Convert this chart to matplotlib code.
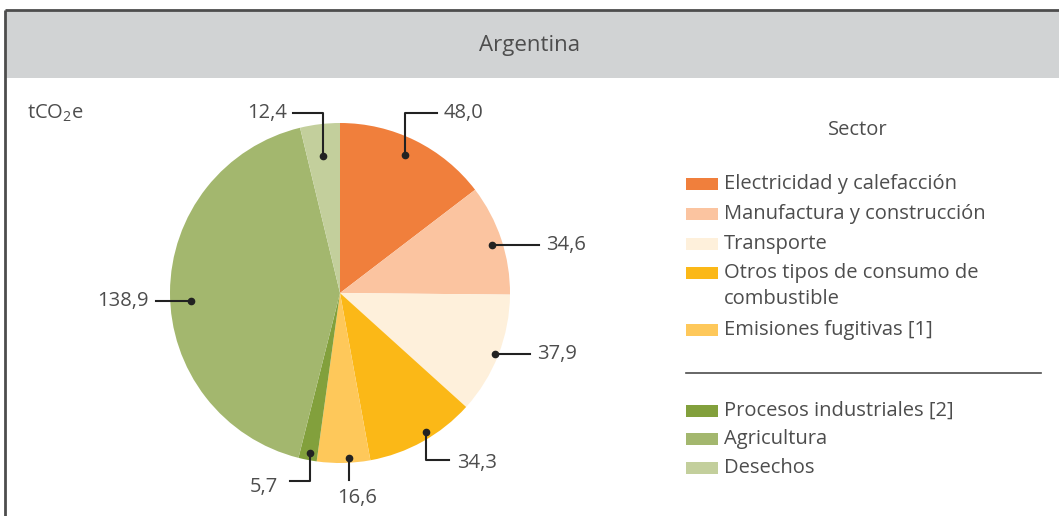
import matplotlib
matplotlib.use("Agg")
import matplotlib.pyplot as plt
from matplotlib import font_manager
import numpy as np

# ---- data ----
title = "Argentina"
unit_label = "tCO$_2$e"
legend_title = "Sector"
sectors = ["Electricidad y calefacción", "Manufactura y construcción", "Transporte",
           "Otros tipos de consumo de\ncombustible", "Emisiones fugitivas [1]",
           "Procesos industriales [2]", "Agricultura", "Desechos"]
values = [48.0, 34.6, 37.9, 34.3, 16.6, 5.7, 138.9, 12.4]
value_labels = ["48,0", "34,6", "37,9", "34,3", "16,6", "5,7", "138,9", "12,4"]
colors = ["#f07f3c", "#fbc4a0", "#fef0db", "#fbb817", "#fec85a",
          "#82a03c", "#a3b76e", "#c3cf9c"]

# ---- fonts ----
avail = {f.name for f in font_manager.fontManager.ttflist}
fam = "Liberation Sans Narrow" if "Liberation Sans Narrow" in avail else "Open Sans"
plt.rcParams['font.family'] = [fam, 'DejaVu Sans']
plt.rcParams['mathtext.fontset'] = 'custom'
plt.rcParams['mathtext.rm'] = fam
plt.rcParams['mathtext.it'] = fam
TXT = "#4d4d4d"
FS = 14.5

W, H = 1059, 516
fig = plt.figure(figsize=(W / 100, H / 100), dpi=100)
ax = fig.add_axes([0, 0, 1, 1])


def fy(y):
    return H - y


# frame and header
ax.add_patch(plt.Rectangle((5, fy(78)), W, 68, facecolor="#d1d3d4", edgecolor="none", zorder=0))
ax.plot([5, W], [fy(10), fy(10)], color="#4d4d4d", lw=2, solid_capstyle='butt', zorder=1)
ax.plot([5, 5], [fy(10), 0], color="#4d4d4d", lw=2, solid_capstyle='butt', zorder=1)
ax.text(530, fy(46), title, ha='center', va='center', fontsize=16, color=TXT)
ax.text(27, fy(113), unit_label, ha='left', va='center', fontsize=FS, color=TXT)

# pie
cx, cy, R = 340, fy(293), 170
wedges, _ = ax.pie(values, colors=colors, startangle=90, counterclock=False,
                   center=(cx, cy), radius=R, frame=True,
                   wedgeprops=dict(linewidth=0))
ax.set_xlim(0, W)
ax.set_ylim(0, H)
ax.set_aspect('equal')
ax.axis('off')

# label layout: dot radius fraction, angle tweak (deg), leader path offsets (px, y downwards), text offset
layout = [
    (0.90, 1.0, [(0, -42), (32, -42)], (6, 0, 'left')),
    (0.94, -1.0, [(47, 0)], (7, 0, 'left')),
    (0.98, 0.0, [(35, 0)], (7, 0, 'left')),
    (0.96, 2.8, [(0, 28), (23, 28)], (8, 3, 'left')),
    (0.97, 1.8, [(0, 22)], (8, 18, 'center')),
    (0.96, 0.3, [(0, 28), (-20, 28)], (-12, 6, 'right')),
    (0.88, 3.2, [(-35, 0)], (-7, 0, 'right')),
    (0.81, 0.2, [(0, -43), (-30, -43)], (-6, 0, 'right')),
]
for w, lab, (rf, dang, path, (tdx, tdy, ha)) in zip(wedges, value_labels, layout):
    ang = np.deg2rad((w.theta1 + w.theta2) / 2 + dang)
    x0 = cx + rf * R * np.cos(ang)
    y0 = cy + rf * R * np.sin(ang)
    xs = [x0] + [x0 + dx for dx, dy in path]
    ys = [y0] + [y0 - dy for dx, dy in path]
    ax.plot(xs, ys, color="#222222", lw=1.5, zorder=5)
    ax.plot([x0], [y0], 'o', color="#222222", ms=4.5, zorder=6)
    ax.text(xs[-1] + tdx, ys[-1] - tdy, lab, ha=ha, va='center', fontsize=FS, color=TXT)

# legend
ax.text(858, fy(130), legend_title, ha='center', va='center', fontsize=FS, color=TXT)
rows_y = [184, 214, 244, 273, 330, 411, 439, 468]
for c, s, y in zip(colors, sectors, rows_y):
    ax.add_patch(plt.Rectangle((686, fy(y + 6)), 32, 12, facecolor=c, edgecolor='none'))
    parts = s.split("\n")
    ax.text(724, fy(y), parts[0], ha='left', va='center', fontsize=FS, color=TXT)
    if len(parts) > 1:
        ax.text(724, fy(y + 26), parts[1], ha='left', va='center', fontsize=FS, color=TXT)
ax.plot([686, 1041], [fy(373), fy(373)], color="#4d4d4d", lw=1.2)

fig.savefig("out.png", dpi=100)
